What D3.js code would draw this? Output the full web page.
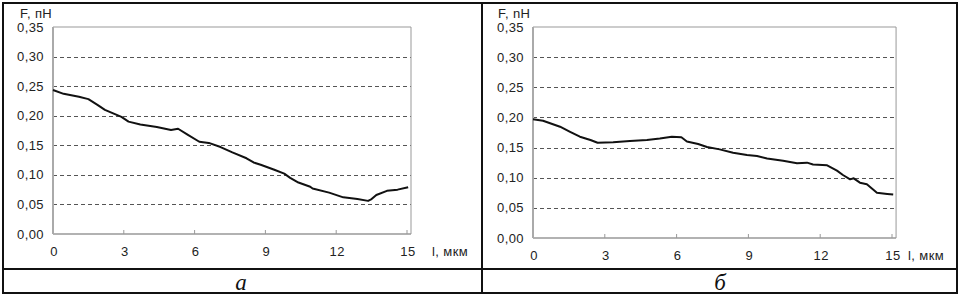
<!DOCTYPE html>
<html>
<head>
<meta charset="utf-8">
<script src="https://cdn.jsdelivr.net/npm/d3@7"></script>
<style>
  body { margin: 0; background: #fff; }
  svg { display: block; }
  .tick-label { font-family: "Liberation Sans", Arial, sans-serif; font-size: 13px; letter-spacing: 0.4px; fill: #222; }
  .caption { font-family: "Liberation Serif", "Times New Roman", serif; font-style: italic; font-size: 23px; fill: #111; }
</style>
</head>
<body>
<svg width="962" height="298"></svg>
<script>
const width = 962, height = 298;
const svg = d3.select("svg");

// data
const yTicks = [0, 0.05, 0.10, 0.15, 0.20, 0.25, 0.30, 0.35];
const xTicks = [0, 3, 6, 9, 12, 15];

const lA = [0, 0.45, 1.1, 1.5, 1.9, 2.2, 2.6, 2.9, 3.2, 3.7, 4.4, 5.0, 5.3, 5.7, 6.2, 6.6, 7.1, 7.6, 8.2, 8.5, 8.8, 9.35, 9.8, 10.05, 10.4, 10.9, 11.0, 11.7, 12.3, 12.9, 13.35, 13.5, 13.7, 14.15, 14.6, 15.05];
const fA = [0.2435, 0.237, 0.232, 0.228, 0.218, 0.210, 0.203, 0.198, 0.190, 0.185, 0.181, 0.176, 0.178, 0.168, 0.156, 0.154, 0.147, 0.138, 0.128, 0.121, 0.117, 0.109, 0.102, 0.095, 0.087, 0.080, 0.077, 0.070, 0.062, 0.059, 0.056, 0.059, 0.066, 0.073, 0.075, 0.079];

const lB = [0, 0.42, 1.13, 1.55, 1.96, 2.4, 2.7, 3.35, 4.05, 4.76, 5.3, 5.8, 6.2, 6.43, 6.9, 7.27, 7.8, 8.36, 8.94, 9.36, 9.78, 10.45, 11.03, 11.45, 11.7, 12.29, 12.7, 12.95, 13.25, 13.4, 13.66, 13.95, 14.37, 14.8, 15.05];
const fB = [0.197, 0.1945, 0.1846, 0.176, 0.168, 0.1625, 0.158, 0.159, 0.161, 0.1625, 0.165, 0.168, 0.167, 0.160, 0.156, 0.151, 0.147, 0.1415, 0.1377, 0.136, 0.132, 0.128, 0.124, 0.125, 0.122, 0.1205, 0.1117, 0.1045, 0.0973, 0.099, 0.0918, 0.089, 0.075, 0.073, 0.072];

const fmt = d => d.toFixed(2).replace(".", ",");

// table frame
const table = svg.append("g").attr("stroke", "#111").attr("stroke-width", 2).attr("fill", "none");
table.append("rect").attr("x", 3).attr("y", 3).attr("width", 954).attr("height", 290);
table.append("line").attr("x1", 482).attr("x2", 482).attr("y1", 3).attr("y2", 293);
table.append("line").attr("x1", 3).attr("x2", 957).attr("y1", 269).attr("y2", 269);

function drawPanel(p) {
  const g = svg.append("g");
  const x = d3.scaleLinear().domain([0, 15]).range([p.x0, p.x15]);
  const y = d3.scaleLinear().domain([0, 0.35]).range([p.bottom, p.top]);
  const right = x(15.17);

  // dashed grid
  g.selectAll(".grid")
    .data(yTicks.filter(d => d > 0 && d < 0.35))
    .join("line")
    .attr("x1", x(0)).attr("x2", right)
    .attr("y1", d => Math.round(y(d)) + 0.5).attr("y2", d => Math.round(y(d)) + 0.5)
    .attr("stroke", "#555").attr("stroke-width", 1)
    .attr("stroke-dasharray", "4,3");

  // plot frame
  g.append("line").attr("x1", x(0)).attr("x2", right).attr("y1", y(0.35)).attr("y2", y(0.35))
    .attr("stroke", "#999").attr("stroke-width", 1);
  g.append("line").attr("x1", right).attr("x2", right).attr("y1", y(0.35)).attr("y2", y(0))
    .attr("stroke", "#999").attr("stroke-width", 1);
  g.append("line").attr("x1", x(0)).attr("x2", right).attr("y1", y(0)).attr("y2", y(0))
    .attr("stroke", "#999").attr("stroke-width", 1.5);
  g.append("line").attr("x1", x(0)).attr("x2", x(0)).attr("y1", y(0.35)).attr("y2", y(0))
    .attr("stroke", "#aaa").attr("stroke-width", 2);

  // x tick marks (inside)
  g.selectAll(".xt")
    .data(xTicks.slice(1))
    .join("line")
    .attr("x1", d => x(d)).attr("x2", d => x(d))
    .attr("y1", y(0)).attr("y2", y(0) - 4)
    .attr("stroke", "#999");

  // labels
  g.selectAll(".yl")
    .data(yTicks)
    .join("text")
    .attr("class", "tick-label")
    .attr("x", x(0) - 9)
    .attr("y", d => y(d) + 4.5)
    .attr("text-anchor", "end")
    .text(fmt);

  g.selectAll(".xl")
    .data(xTicks)
    .join("text")
    .attr("class", "tick-label")
    .attr("x", d => x(d) + 1)
    .attr("y", p.bottom + 22)
    .attr("text-anchor", "middle")
    .text(d => d);

  g.append("text").attr("class", "tick-label")
    .attr("x", p.yLabelX).attr("y", 18)
    .text(p.yLabel);

  g.append("text").attr("class", "tick-label")
    .attr("x", x(15) + p.xLabelGap).attr("y", p.bottom + 22)
    .text("l, мкм");

  // curve
  const pts = p.l.map((d, i) => [d, p.f[i]]);
  g.append("path")
    .datum(pts)
    .attr("fill", "none")
    .attr("stroke", "#111")
    .attr("stroke-width", 2)
    .attr("stroke-linejoin", "round")
    .attr("d", d3.line().x(d => x(d[0])).y(d => y(d[1])));

  svg.append("text").attr("class", "caption")
    .attr("x", p.captionX).attr("y", 290)
    .attr("text-anchor", "middle")
    .text(p.caption);
}

drawPanel({ x0: 53, x15: 407, top: 27, bottom: 234, l: lA, f: fA, yLabel: "F, пН", yLabelX: 20, xLabelGap: 25, caption: "а", captionX: 241 });
drawPanel({ x0: 533, x15: 892, top: 27, bottom: 238, l: lB, f: fB, yLabel: "F, nH", yLabelX: 498, xLabelGap: 16, caption: "б", captionX: 720 });
</script>
</body>
</html>
